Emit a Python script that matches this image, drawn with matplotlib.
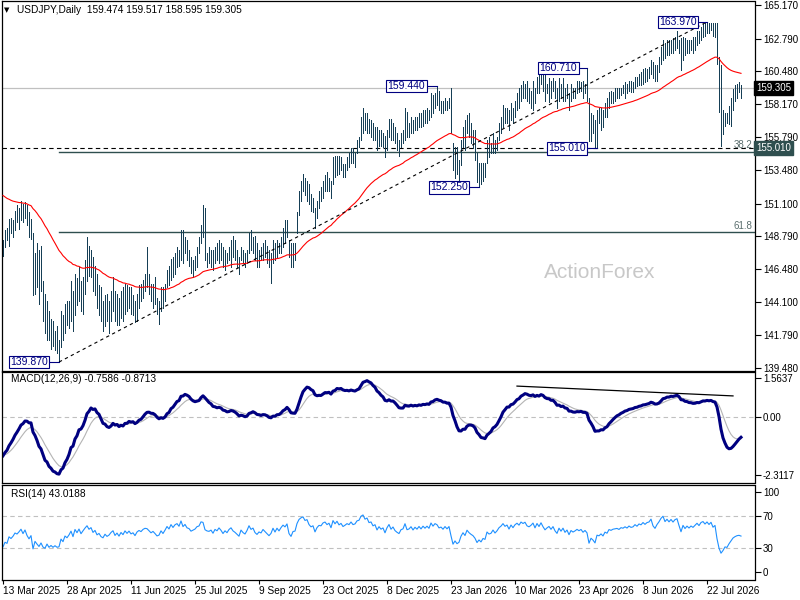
import numpy as np
import matplotlib.pyplot as plt

plt.rcParams['font.family'] = ['Liberation Sans', 'DejaVu Sans']

# daily USDJPY bars (index 0 = 13 Mar 2025)
highs = [
    148.5, 149.2, 149.4, 150.0, 150.1, 149.9, 150.6, 151.0, 150.8, 151.3,
    151.1, 151.2, 151.0, 150.5, 150.0, 149.0, 147.6, 148.3, 147.8, 148.1,
    145.6, 144.7, 144.2, 143.5, 142.9, 142.8, 142.1, 142.4, 141.4, 143.5,
    143.2, 144.0, 144.2, 144.2, 145.6, 144.9, 146.1, 145.8, 146.6, 145.6,
    145.9, 147.1, 148.7, 148.1, 147.8, 147.3, 146.7, 146.1, 145.3, 145.2,
    144.2, 144.6, 144.7, 144.2, 144.9, 145.9, 144.9, 144.7, 144.4, 144.9,
    145.2, 145.4, 145.3, 145.2, 145.2, 144.6, 144.2, 144.7, 145.3, 145.4,
    145.7, 146.1, 148.0, 146.1, 145.4, 145.4, 145.9, 144.4, 144.2, 145.2,
    145.2, 145.4, 146.4, 146.7, 147.2, 147.3, 147.6, 148.0, 147.8, 149.2,
    149.2, 148.7, 148.5, 147.8, 147.3, 147.1, 147.4, 148.0, 148.7, 149.6,
    151.0, 150.8, 147.6, 148.0, 147.8, 147.8, 148.0, 148.3, 148.5, 148.3,
    148.0, 147.8, 147.6, 148.0, 148.5, 148.8, 148.5, 147.8, 147.3, 148.0,
    147.8, 147.6, 147.8, 149.0, 149.2, 148.7, 148.8, 148.3, 147.8, 148.0,
    148.3, 148.5, 148.1, 147.8, 147.6, 148.5, 148.3, 148.5, 148.3, 148.7,
    149.4, 149.9, 149.9, 148.5, 148.3, 148.3, 148.3, 150.5, 152.0, 152.7,
    153.2, 152.9, 152.7, 152.5, 151.8, 151.5, 150.8, 151.3, 152.0, 152.3,
    152.7, 153.1, 153.3, 152.9, 152.7, 154.4, 154.5, 154.5, 154.5, 154.4,
    153.9, 153.9, 154.4, 154.7, 155.0, 155.0, 154.7, 155.6, 155.8, 157.2,
    157.9, 157.5, 157.5, 157.1, 157.0, 156.8, 156.5, 156.5, 156.3, 156.3,
    156.1, 155.9, 156.3, 157.1, 157.1, 156.8, 156.5, 156.1, 155.6, 156.1,
    156.3, 157.9, 157.6, 156.8, 157.2, 157.0, 157.2, 157.2, 157.5, 157.5,
    157.7, 157.7, 157.9, 157.7, 158.9, 158.8, 158.9, 159.44, 159.1, 158.4,
    158.4, 158.6, 158.4, 158.6, 159.3, 155.4, 155.1, 155.1, 154.2, 155.6,
    156.5, 157.0, 157.4, 157.5, 156.8, 156.3, 156.3, 154.7, 154.0, 154.0,
    154.0, 154.0, 155.6, 155.8, 155.4, 156.1, 155.6, 155.8, 156.8, 157.2,
    158.1, 157.9, 157.9, 157.7, 158.2, 157.9, 158.4, 158.9, 159.3, 159.5,
    159.8, 159.6, 159.8, 159.3, 159.1, 159.8, 159.3, 160.1, 160.3, 160.65,
    160.6, 160.4, 159.6, 160.0, 159.8, 160.0, 159.8, 159.3, 160.0, 159.6,
    160.0, 159.3, 159.6, 158.9, 159.6, 159.3, 159.3, 159.8, 159.8, 159.7,
    159.8, 159.6, 160.71, 158.6, 157.5, 157.4, 157.0, 157.7, 157.9, 157.9,
    157.7, 158.2, 158.6, 159.0, 159.1, 159.0, 159.3, 159.3, 159.3, 159.3,
    159.5, 159.7, 159.6, 159.8, 159.8, 159.7, 160.1, 160.1, 160.3, 160.4,
    160.6, 160.7, 160.6, 160.8, 161.3, 161.1, 160.9, 160.9, 161.5, 162.2,
    162.7, 162.5, 162.7, 162.7, 162.7, 162.8, 162.9, 163.3, 162.7, 162.8,
    162.9, 162.8, 162.7, 162.7, 162.7, 162.9, 162.9, 163.3, 163.3, 163.6,
    163.8, 163.9, 163.97, 163.9, 163.9, 163.9, 163.9, 163.9, 161.5, 160.9,
    157.7, 157.5, 157.5, 158.0, 158.6, 159.2, 159.5, 159.6, 159.7, 159.517,
]
lows = [
    147.4, 148.0, 148.5, 148.1, 149.0, 148.7, 149.2, 149.8, 149.3, 149.9,
    149.8, 150.1, 149.6, 148.7, 148.6, 144.6, 144.7, 145.2, 144.0, 144.9,
    142.8, 141.9, 141.4, 141.4, 140.8, 141.0, 140.7, 140.5, 139.87, 140.9,
    141.4, 141.9, 142.5, 142.3, 142.8, 142.1, 143.2, 143.9, 144.2, 143.5,
    143.3, 144.7, 145.6, 146.0, 145.9, 144.9, 144.6, 143.7, 143.2, 142.8,
    142.1, 142.4, 142.8, 141.9, 142.8, 143.5, 142.8, 142.5, 142.5, 143.0,
    142.8, 143.3, 143.5, 143.7, 143.3, 143.2, 142.7, 142.8, 143.7, 144.2,
    144.4, 144.9, 145.2, 144.7, 144.2, 143.7, 144.0, 143.3, 142.6, 143.5,
    143.7, 144.2, 145.2, 145.3, 145.7, 145.9, 146.1, 146.6, 146.7, 147.1,
    146.9, 147.6, 147.1, 146.7, 146.2, 145.9, 146.4, 146.6, 147.6, 148.3,
    148.7, 147.1, 146.6, 146.9, 146.6, 146.4, 146.9, 147.1, 146.9, 147.1,
    146.6, 146.4, 146.9, 147.1, 146.6, 147.3, 147.1, 146.6, 146.1, 147.1,
    146.9, 146.6, 146.9, 147.6, 147.8, 147.6, 147.1, 146.6, 146.6, 147.1,
    147.1, 147.3, 146.9, 146.6, 145.5, 146.9, 147.1, 147.3, 147.6, 147.6,
    148.0, 148.3, 148.7, 147.3, 146.6, 146.6, 147.1, 149.0, 150.3, 151.3,
    152.0, 151.7, 151.3, 151.1, 150.6, 150.5, 149.4, 150.1, 150.8, 151.3,
    151.5, 152.0, 152.0, 152.0, 151.5, 152.5, 153.0, 153.1, 153.2, 153.5,
    153.0, 153.0, 153.5, 153.7, 154.0, 154.0, 153.7, 154.7, 155.1, 155.6,
    156.1, 156.3, 156.1, 156.1, 155.8, 155.6, 155.6, 154.9, 155.2, 155.2,
    155.1, 154.4, 154.9, 155.8, 155.6, 155.6, 155.4, 154.9, 154.5, 155.1,
    155.4, 155.6, 155.8, 155.8, 156.1, 156.1, 156.3, 156.3, 156.5, 156.5,
    156.6, 156.8, 156.8, 157.0, 157.2, 157.5, 157.9, 158.1, 157.7, 157.5,
    157.5, 157.7, 157.7, 157.9, 156.1, 153.5, 152.9, 153.2, 152.4, 153.8,
    155.1, 154.9, 156.1, 155.8, 155.4, 155.0, 154.2, 152.6, 152.25, 152.5,
    152.7, 153.0, 154.0, 154.4, 154.7, 154.7, 154.7, 154.9, 155.6, 156.1,
    156.5, 156.8, 156.8, 156.3, 157.0, 156.8, 157.2, 157.7, 157.9, 158.4,
    158.6, 158.6, 158.4, 158.2, 157.9, 157.7, 158.2, 158.9, 158.9, 159.6,
    159.1, 158.4, 158.9, 158.3, 158.6, 159.1, 158.6, 157.9, 158.4, 158.6,
    158.4, 158.4, 158.6, 157.7, 158.4, 158.6, 158.6, 158.9, 159.0, 159.1,
    158.6, 158.9, 158.4, 155.5, 155.5, 156.1, 155.1, 155.01, 156.8, 156.3,
    156.5, 157.2, 157.2, 157.9, 158.2, 158.2, 158.4, 158.6, 158.6, 158.8,
    158.9, 158.6, 158.9, 159.1, 159.0, 159.0, 159.3, 159.4, 159.5, 159.5,
    159.6, 159.7, 159.8, 160.0, 160.3, 160.0, 159.8, 159.8, 160.4, 161.0,
    161.3, 161.4, 161.6, 161.6, 161.8, 161.8, 162.0, 162.1, 161.8, 160.56,
    161.3, 161.6, 161.8, 161.8, 162.0, 161.8, 162.0, 162.3, 162.5, 162.7,
    162.9, 163.0, 163.2, 163.2, 163.4, 163.0, 162.9, 161.0, 157.6, 155.2,
    156.0, 156.6, 156.8, 156.7, 156.6, 157.7, 158.4, 158.6, 159.0, 158.595,
]
closes = [
    148.2, 148.9, 148.6, 149.7, 149.3, 149.7, 150.3, 150.1, 150.5, 151.0,
    150.2, 150.9, 149.8, 149.0, 149.6, 145.0, 146.8, 145.6, 144.4, 145.3,
    143.2, 142.5, 143.6, 141.8, 142.3, 141.3, 141.7, 140.9, 141.0, 143.0,
    141.9, 143.6, 142.9, 143.8, 145.1, 143.0, 145.8, 144.5, 146.1, 144.1,
    145.4, 146.7, 147.9, 146.5, 147.3, 145.3, 146.2, 144.2, 144.8, 143.3,
    142.7, 144.1, 143.1, 143.6, 144.6, 145.3, 143.4, 144.3, 143.0, 144.4,
    143.5, 145.0, 144.0, 144.9, 143.8, 144.2, 143.1, 144.4, 145.0, 144.6,
    145.4, 145.8, 145.7, 145.1, 144.5, 144.9, 144.3, 143.6, 143.8, 144.9,
    144.2, 145.1, 146.2, 145.6, 147.0, 146.3, 147.2, 147.6, 147.0, 148.9,
    147.5, 148.3, 147.4, 147.2, 146.5, 146.8, 147.1, 147.8, 148.0, 149.3,
    149.2, 147.6, 147.3, 147.2, 147.5, 146.8, 147.7, 147.4, 148.1, 147.6,
    146.9, 147.5, 147.1, 147.8, 148.2, 147.6, 147.3, 146.9, 146.5, 147.7,
    147.2, 146.9, 147.6, 148.7, 148.0, 148.3, 147.4, 147.0, 147.5, 147.3,
    148.0, 147.6, 147.2, 146.8, 147.2, 148.2, 147.5, 148.3, 147.8, 148.5,
    149.1, 148.8, 149.5, 147.6, 146.9, 148.0, 148.1, 150.2, 151.7, 152.4,
    152.8, 152.1, 152.4, 151.4, 150.9, 151.2, 149.8, 151.0, 151.7, 151.6,
    152.5, 152.8, 152.3, 152.7, 151.8, 154.1, 153.4, 154.3, 153.5, 154.0,
    153.3, 153.7, 154.2, 154.0, 154.8, 154.3, 154.5, 155.4, 155.6, 157.0,
    157.5, 156.8, 157.2, 156.4, 156.6, 155.9, 156.2, 155.2, 156.0, 155.5,
    155.8, 154.8, 156.0, 156.9, 155.9, 156.5, 155.7, 155.3, 155.0, 155.9,
    156.1, 157.5, 156.2, 156.4, 157.0, 156.3, 157.0, 156.6, 157.3, 156.8,
    157.5, 157.1, 157.6, 157.2, 158.6, 158.0, 158.7, 158.5, 157.9, 158.1,
    157.7, 158.3, 157.9, 158.4, 156.5, 153.9, 154.6, 153.6, 153.9, 155.3,
    156.2, 155.4, 156.9, 156.2, 155.7, 155.3, 154.5, 153.0, 153.6, 152.9,
    153.7, 153.4, 155.3, 154.7, 154.9, 155.8, 155.0, 155.6, 156.5, 157.0,
    157.8, 157.2, 157.6, 156.7, 157.9, 157.3, 158.2, 158.7, 158.3, 159.3,
    159.0, 159.4, 158.7, 158.5, 158.9, 159.5, 158.6, 159.8, 159.2, 160.3,
    159.5, 158.8, 159.3, 159.7, 159.1, 159.8, 158.9, 158.3, 159.6, 158.9,
    159.7, 158.7, 159.3, 158.1, 159.2, 158.8, 159.1, 159.5, 159.2, 159.5,
    158.9, 159.3, 158.8, 155.9, 157.0, 156.4, 155.4, 157.3, 157.1, 157.6,
    157.0, 158.0, 157.7, 158.7, 158.5, 158.8, 158.9, 159.0, 158.8, 159.2,
    159.1, 159.4, 159.2, 159.6, 159.4, 159.5, 159.9, 159.7, 160.1, 160.0,
    160.4, 160.2, 160.5, 160.6, 161.1, 160.4, 160.1, 160.7, 161.2, 161.9,
    162.4, 161.8, 162.3, 162.0, 162.5, 162.2, 162.7, 162.9, 162.1, 161.2,
    162.4, 161.9, 162.4, 162.1, 162.5, 162.3, 162.7, 163.1, 162.8, 163.4,
    163.6, 163.3, 163.7, 163.4, 163.8, 163.2, 163.5, 161.3, 158.5, 156.0,
    156.5, 157.2, 157.0, 157.7, 158.3, 158.9, 159.2, 159.4, 159.474, 159.305,
]

date_labels = ['13 Mar 2025', '28 Apr 2025', '11 Jun 2025', '25 Jul 2025',
               '9 Sep 2025', '23 Oct 2025', '8 Dec 2025', '23 Jan 2026',
               '10 Mar 2026', '23 Apr 2026', '8 Jun 2026', '22 Jul 2026']
date_step = 32

price_ticks = [165.17, 162.79, 160.48, 158.17, 155.79, 153.48,
               151.10, 148.79, 146.48, 144.10, 141.79, 139.48]
macd_ticks = [1.5637, 0.0, -2.3117]
macd_tick_labels = ['1.5637', '0.00', '-2.3117']
rsi_ticks = [100, 70, 30, 0]

title = 'USDJPY,Daily  159.474 159.517 158.595 159.305'
macd_title = 'MACD(12,26,9) -0.7586 -0.8713'
rsi_title = 'RSI(14) 43.0188'

last_price = 159.305
support = 155.010

# swing labels: (bar, price, bar under the label box)
swings = [(28, 139.870, 13), (217, 159.440, 201.75), (238, 152.250, 223),
          (292, 160.710, 277.75), (297, 155.010, 282), (352, 163.970, 337.5)]

fib_low, fib_high = 139.87, 163.97
fib_levels = [38.2, 61.8]
fib_start = 28
trend_bars = [28, 352]
trend_prices = [139.87, 163.97]
macd_trend_bars = [257, 365]
macd_trend_vals = [1.24, 0.85]

# indicator settings and their state just before the first bar
ma_period, ma_prev = 55, 151.8
fast, slow, sig = 12, 26, 9
fast_prev, slow_prev, sig_prev = 148.8, 150.4, -1.5
rsi_period, prev_close, gain_prev, loss_prev = 14, 148.6, 0.2, 0.4


def ema(values, period, prev):
    k = 2.0 / (period + 1)
    out = []
    for v in values:
        prev = prev + k * (v - prev)
        out.append(prev)
    return np.array(out)


closes_a = np.array(closes)
ma = ema(closes_a, ma_period, ma_prev)
macd = ema(closes_a, fast, fast_prev) - ema(closes_a, slow, slow_prev)
signal = ema(macd, sig, sig_prev)

rsi = []
ag, al, pc = gain_prev, loss_prev, prev_close
for c in closes:
    d = c - pc
    ag = (ag * (rsi_period - 1) + max(d, 0)) / rsi_period
    al = (al * (rsi_period - 1) + max(-d, 0)) / rsi_period
    rsi.append(100 - 100 / (1 + ag / al))
    pc = c

x = np.arange(len(closes))
xmin, xmax = -0.75, 375.75

fig = plt.figure(figsize=(8, 6), dpi=100)
fig.patch.set_facecolor('white')


def panel(top, bottom):
    a = fig.add_axes([1.5 / 800, 1 - bottom / 600, 753 / 800, (bottom - top) / 600])
    a.set_xlim(xmin, xmax)
    for s in a.spines.values():
        s.set_linewidth(0.9)
        s.set_color('black')
    a.yaxis.tick_right()
    a.tick_params(axis='y', direction='out', length=4, width=0.8, pad=2,
                  labelsize=7, colors='black')
    a.tick_params(axis='x', bottom=False, labelbottom=False)
    return a


ax = panel(1, 370.5)
ax.set_ylim(139.27, 165.45)
ax.set_yticks(price_ticks, [f'{p:.3f}' for p in price_ticks])

ax.axhline(last_price, color='#c0c0c0', lw=0.9, zorder=1)
ax.axhline(support, color='black', lw=0.8, ls=(0, (4, 3)), zorder=1)
for lvl in fib_levels:
    p = fib_high - lvl / 100 * (fib_high - fib_low)
    ax.plot([fib_start, xmax], [p, p], color='#2f4f4f', lw=1.0, zorder=1)
    ax.text(xmax - 1, p + 0.1, f'{lvl}', ha='right', va='bottom',
            fontsize=7, color='#5a6e6e')

ax.text(298.5, 146.2, 'ActionForex', color='#c8c8c8', fontsize=15,
        ha='center', va='center', zorder=0)

ax.vlines(x, lows, highs, color='#163f56', lw=0.6, antialiased=False, zorder=2)
ax.plot(x, ma, color='#ff0000', lw=0.8, zorder=3)
ax.plot(trend_bars, trend_prices, color='black', lw=0.8, ls=(0, (3, 3)), zorder=3)

for bar, price, cx in swings:
    ax.plot([cx, bar], [price, price], color='#000080', lw=0.8, zorder=4)
    ax.text(cx, price, f'{price:.3f}', ha='center', va='center', fontsize=7.5,
            color='#000080', zorder=5,
            bbox=dict(boxstyle='square,pad=0.12', fc='white', ec='#000080', lw=0.8))

ax.text(1.002, last_price, f'{last_price:.3f}', transform=ax.get_yaxis_transform(),
        ha='left', va='center', fontsize=7, color='white', clip_on=False,
        bbox=dict(boxstyle='square,pad=0.2', fc='black', ec='black'))
ax.text(1.002, support, f'{support:.3f}', transform=ax.get_yaxis_transform(),
        ha='left', va='center', fontsize=7, color='white', clip_on=False,
        bbox=dict(boxstyle='square,pad=0.2', fc='#2f4f4f', ec='#2f4f4f'))

fig.text(4 / 800, 1 - 10 / 600, '\u25bc', fontsize=5, va='center', family='DejaVu Sans')
fig.text(17 / 800, 1 - 10 / 600, title, fontsize=7.3, va='center')

ax2 = panel(372, 483)
ax2.set_ylim(-2.61, 1.80)
ax2.set_yticks(macd_ticks, macd_tick_labels)
ax2.axhline(0, color='#c0c0c0', lw=0.8, ls=(0, (4, 3)))
ax2.plot(x, signal, color='#b4b4b4', lw=0.8)
ax2.plot(x, macd, color='#000080', lw=2.2)
ax2.plot(macd_trend_bars, macd_trend_vals, color='black', lw=0.9)
ax2.text(4, 1.52, macd_title, fontsize=7.3, va='center')

ax3 = panel(485, 579.5)
ax3.set_ylim(-9.2, 109.2)
ax3.set_yticks(rsi_ticks, [str(v) for v in rsi_ticks])
for lvl in (70, 30):
    ax3.axhline(lvl, color='#c0c0c0', lw=0.8, ls=(0, (4, 3)))
ax3.plot(x, rsi, color='#1e90ff', lw=0.8)
ax3.text(4, 98, rsi_title, fontsize=7.3, va='center')
ax3.set_xticks(np.arange(len(date_labels)) * date_step, date_labels)
ax3.tick_params(axis='x', bottom=True, labelbottom=True, direction='out',
                length=3, width=0.8, pad=2, labelsize=7.3)
for lab in ax3.get_xticklabels():
    lab.set_horizontalalignment('left')

fig.savefig('out.png', dpi=100)
